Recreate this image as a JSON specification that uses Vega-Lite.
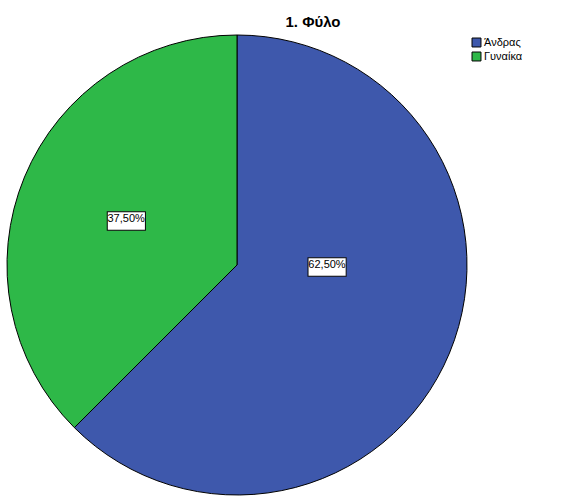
{
  "$schema": "https://vega.github.io/schema/vega-lite/v6.json",
  "autosize": {"type": "none"},
  "padding": {"left": 0, "top": 35, "right": 87, "bottom": 6},
  "width": 474,
  "height": 460,
  "background": "white",
  "title": {
    "text": "1. Φύλο",
    "font": "Liberation Sans",
    "fontSize": 15,
    "fontWeight": "bold",
    "color": "black",
    "anchor": "middle",
    "dx": 76,
    "offset": 3
  },
  "data": {
    "values": [
      {"gender": "Άνδρας", "share": 0.625, "order": 1},
      {"gender": "Γυναίκα", "share": 0.375, "order": 2}
    ]
  },
  "encoding": {
    "theta": {"field": "share", "type": "quantitative", "stack": true},
    "order": {"field": "order"}
  },
  "layer": [
    {
      "mark": {"type": "arc", "outerRadius": 230, "stroke": "black", "strokeWidth": 1},
      "encoding": {
        "color": {
          "field": "gender",
          "type": "nominal",
          "sort": ["Άνδρας", "Γυναίκα"],
          "scale": {"domain": ["Άνδρας", "Γυναίκα"], "range": ["#3E58AC", "#2EB848"]},
          "legend": {
            "title": null,
            "orient": "none",
            "legendX": 471,
            "legendY": 2,
            "padding": 0,
            "symbolType": "square",
            "symbolSize": 80,
            "symbolStrokeColor": "black",
            "symbolStrokeWidth": 1,
            "labelFont": "Liberation Sans",
            "labelFontSize": 11,
            "labelColor": "black",
            "labelOffset": 2,
            "rowPadding": 1
          }
        }
      }
    },
    {
      "mark": {"type": "text", "radius": 120, "text": "▬", "font": "DejaVu Sans", "fontSize": 50, "fill": "white", "stroke": "black", "strokeWidth": 1, "baseline": "middle"},
      "encoding": {
        "opacity": {"condition": {"test": "datum.gender === 'Γυναίκα'", "value": 1}, "value": 0}
      }
    },
    {
      "mark": {"type": "text", "radius": 120, "font": "Liberation Sans", "fontSize": 11, "fill": "black", "baseline": "middle"},
      "encoding": {
        "text": {"field": "share", "type": "quantitative", "format": ".2%"},
        "opacity": {"condition": {"test": "datum.gender === 'Γυναίκα'", "value": 1}, "value": 0}
      }
    },
    {
      "mark": {"type": "text", "radius": 90, "thetaOffset": -0.39, "text": "▬", "font": "DejaVu Sans", "fontSize": 50, "fill": "white", "stroke": "black", "strokeWidth": 1, "baseline": "middle"},
      "encoding": {
        "opacity": {"condition": {"test": "datum.gender === 'Άνδρας'", "value": 1}, "value": 0}
      }
    },
    {
      "mark": {"type": "text", "radius": 90, "thetaOffset": -0.39, "font": "Liberation Sans", "fontSize": 11, "fill": "black", "baseline": "middle"},
      "encoding": {
        "text": {"field": "share", "type": "quantitative", "format": ".2%"},
        "opacity": {"condition": {"test": "datum.gender === 'Άνδρας'", "value": 1}, "value": 0}
      }
    }
  ],
  "config": {
    "view": {"stroke": null},
    "locale": {
      "number": {"decimal": ",", "thousands": ".", "grouping": [3], "currency": ["", " €"]}
    }
  }
}
